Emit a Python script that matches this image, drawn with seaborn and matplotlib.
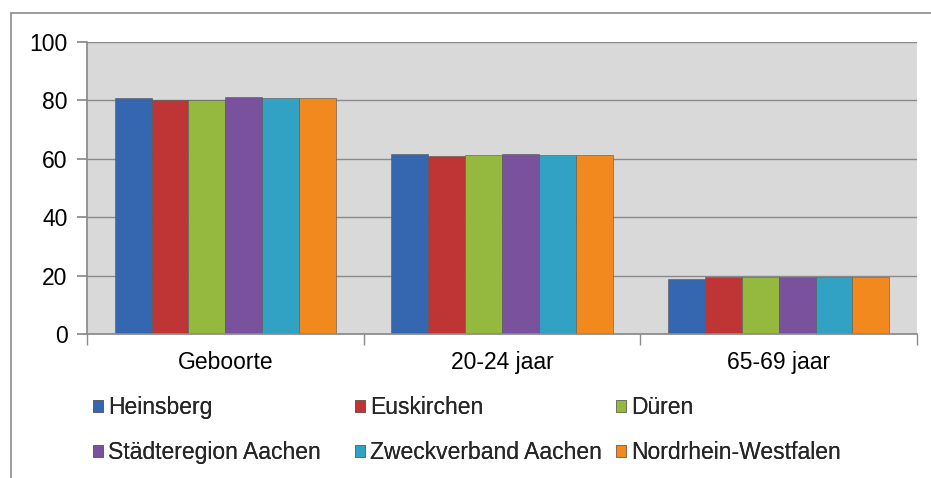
import matplotlib
matplotlib.use("Agg")
import matplotlib.pyplot as plt
import seaborn as sns
import pandas as pd
from matplotlib.lines import Line2D

categories = ["Geboorte", "20-24 jaar", "65-69 jaar"]
regions = ["Heinsberg", "Euskirchen", "Düren", "Städteregion Aachen",
           "Zweckverband Aachen", "Nordrhein-Westfalen"]
heinsberg = [80.8, 61.6, 19.0]
euskirchen = [80.1, 60.8, 19.4]
dueren = [80.3, 61.2, 19.5]
staedteregion = [81.2, 61.5, 19.5]
zweckverband = [80.8, 61.2, 19.4]
nrw = [80.8, 61.2, 19.5]
colors = ["#3566b0", "#bf3434", "#95b83e", "#7a519d", "#31a2c3", "#f2891f"]

series = [heinsberg, euskirchen, dueren, staedteregion, zweckverband, nrw]
rows = []
for reg, vals in zip(regions, series):
    for cat, v in zip(categories, vals):
        rows.append({"cat": cat, "region": reg, "value": v})
df = pd.DataFrame(rows)

sns.set_theme(style="white")
plt.rcParams["font.family"] = ["Liberation Sans", "DejaVu Sans"]

fig = plt.figure(figsize=(9.31, 4.78), dpi=100)
ax = fig.add_axes([87/931, 1-334/478, (917-87)/931, (334-42)/478])
ax.set_facecolor("#d9d9d9")

sns.barplot(data=df, x="cat", y="value", hue="region", order=categories,
            hue_order=regions, palette=colors, width=0.8, ax=ax,
            edgecolor="#555555", linewidth=0.4, legend=True, errorbar=None,
            saturation=1)

ax.set_ylim(0, 100)
ax.set_xlim(-0.5, 2.5)
ax.set_yticks([0, 20, 40, 60, 80, 100])
ax.yaxis.grid(True, color="#8a8a8a", linewidth=1)
ax.set_axisbelow(True)
ax.set_xlabel("")
ax.set_ylabel("")
for s in ["top", "right"]:
    ax.spines[s].set_visible(False)
ax.spines["left"].set_color("#8a8a8a")
ax.spines["bottom"].set_color("#8a8a8a")
ax.tick_params(axis="y", which="major", length=7, color="#8a8a8a",
               labelsize=16.5, pad=7, left=True, direction="out")
ax.tick_params(axis="x", which="major", length=0, labelsize=16.5, pad=12)
ax.set_xticks([-0.5, 0.5, 1.5, 2.5], minor=True)
ax.tick_params(axis="x", which="minor", length=8, color="#8a8a8a",
               bottom=True, direction="out")
for lbl in ax.get_xticklabels() + ax.get_yticklabels():
    lbl.set_color("#000000")

handles, labels = ax.get_legend_handles_labels()
ax.get_legend().remove()
xs = [93, 355, 616]
for i in range(3):
    leg = fig.legend([handles[i], handles[i+3]], [labels[i], labels[i+3]],
                     loc="upper left", bbox_to_anchor=(xs[i]/931, 1-396/478),
                     frameon=False, fontsize=16.5, handlelength=0.42,
                     handleheight=0.42, handletextpad=0.25, labelspacing=0.95,
                     borderpad=0, borderaxespad=0)
    fig.add_artist(leg)

fig.add_artist(Line2D([11/931, 11/931], [0, 1-13/478], transform=fig.transFigure,
                      color="#8c8c8c", linewidth=1.2))
fig.add_artist(Line2D([11/931, 1], [1-13/478, 1-13/478], transform=fig.transFigure,
                      color="#8c8c8c", linewidth=1.2))

fig.savefig("out.png", dpi=100)
